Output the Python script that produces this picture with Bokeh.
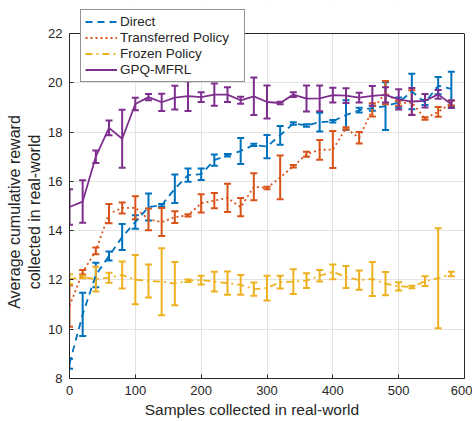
from bokeh.plotting import figure
from bokeh.models import (ColumnDataSource, Whisker, TeeHead, FixedTicker, LinearAxis,
                          Legend, LegendItem, Range1d, BoxAnnotation, Span)
from bokeh.embed import file_html
from bokeh.resources import INLINE

samples = [0, 20, 40, 60, 80, 100, 120, 140, 160, 180, 200, 220, 240, 260, 280,
           300, 320, 340, 360, 380, 400, 420, 440, 460, 480, 500, 520, 540, 560, 580]

direct = [8.6, 10.6, 12.2, 12.97, 13.74, 14.35, 14.96, 15.03, 15.7, 16.25, 16.29, 16.86,
          17.06, 17.23, 17.48, 17.41, 17.87, 18.35, 18.27, 18.4, 18.44, 18.69, 18.89,
          18.97, 19.05, 19.2, 19.65, 19.2, 19.88, 19.75]
direct_err = [0.2, 0.88, 0.5, 0.18, 0.53, 0.27, 0.55, 0.05, 0.58, 0.27, 0.23, 0.23,
              0.05, 0.53, 0.05, 0.47, 0.38, 0.05, 0.05, 0.38, 0.05, 0.6, 0.1,
              0.1, 0.97, 0.2, 0.72, 0.1, 0.35, 0.7]

transferred = [10.94, 12.31, 13.18, 14.69, 14.92, 14.93, 14.46, 14.35, 14.55, 14.62, 15.11,
               15.22, 15.33, 14.95, 15.78, 15.73, 16.16, 16.61, 17.1, 17.28, 17.29, 18.15,
               17.77, 18.9, 19.6, 19.17, 19.2, 18.55, 18.82, 19.18]
transferred_err = [0.84, 0.09, 0.14, 0.39, 0.22, 0.47, 0.44, 0.57, 0.24, 0.05, 0.37,
                   0.31, 0.57, 0.37, 0.55, 0.05, 0.89, 0.05, 0.1, 0.4, 0.75, 0.05,
                   0.23, 0.27, 0.47, 0.1, 0.5, 0.05, 0.2, 0.1]

frozen = [12.03, 12.12, 12.03, 12.09, 12.2, 12.01, 11.96, 11.93, 11.85, 11.97, 11.99,
          11.93, 11.87, 11.8, 11.63, 11.67, 11.91, 11.93, 11.97, 12.17, 12.33, 12.12,
          11.99, 12.04, 11.85, 11.74, 11.71, 11.95, 12.07, 12.24]
frozen_err = [0.2, 0.05, 0.5, 0.2, 0.55, 1.0, 0.67, 1.36, 0.88, 0.05, 0.18,
              0.4, 0.47, 0.4, 0.27, 0.5, 0.26, 0.5, 0.3, 0.23, 0.3, 0.45,
              0.39, 0.69, 0.47, 0.17, 0.05, 0.2, 2.03, 0.09]

gpq = [14.96, 15.18, 17.0, 18.17, 17.73, 19.14, 19.42, 19.21, 19.4, 19.46, 19.42,
       19.52, 19.52, 19.29, 19.45, 19.22, 19.18, 19.52, 19.36, 19.37, 19.5, 19.48,
       19.4, 19.47, 19.51, 19.33, 19.24, 19.27, 19.53, 19.13]
gpq_err = [0.72, 0.86, 0.25, 0.3, 1.18, 0.25, 0.13, 0.35, 0.48, 0.6, 0.2,
           0.45, 0.3, 0.14, 0.76, 0.67, 0.05, 0.1, 0.53, 0.52, 0.3, 0.3,
           0.2, 0.4, 0.31, 0.41, 0.55, 0.27, 0.18, 0.15]

names = ["Direct", "Transferred Policy", "Frozen Policy", "GPQ-MFRL"]
x_ticks = [0, 100, 200, 300, 400, 500, 600]
y_ticks = [8, 10, 12, 14, 16, 18, 20, 22]
x_title = "Samples collected in real-world"
y_title_lines = ["Average cumulative reward", "collected in real-world"]
Y_MIN, Y_MAX = 8, 22

FONT = "Liberation Sans"
AX = "#262626"
NB = "\u00a0"

# frame reaches a little above y=22 so the legend (which overlaps the top of the axes box)
# is not clipped; the axes box itself is drawn at 8..22
p = figure(width=472, height=421, output_backend="svg", toolbar_location=None,
           x_range=Range1d(0, 600), y_range=Range1d(Y_MIN, Y_MAX + 28 / 24.64),
           min_border_left=69, min_border_right=8, min_border_top=5, min_border_bottom=43)
p.outline_line_color = None
p.background_fill_color = "white"
p.border_fill_color = "white"

p.xaxis.ticker = FixedTicker(ticks=x_ticks)
p.yaxis.ticker = FixedTicker(ticks=y_ticks)
p.yaxis.bounds = (Y_MIN, Y_MAX)
for ax in (p.xaxis[0], p.yaxis[0]):
    ax.axis_line_color = AX
    ax.major_tick_line_color = AX
    ax.major_tick_in = 4
    ax.major_tick_out = 0
    ax.minor_tick_line_color = None
    ax.major_label_text_font = FONT
    ax.major_label_text_font_size = "13px"
    ax.major_label_text_color = AX
    ax.axis_label_text_font = FONT
    ax.axis_label_text_font_style = "normal"
    ax.axis_label_text_color = AX
    ax.major_label_standoff = 7

p.xaxis.axis_label_text_font_size = "15.5px"
p.yaxis.axis_label_text_font_size = "16px"
# trailing no-break spaces nudge the titles to where the reference places them
p.xaxis.axis_label = x_title + NB * 7
p.xaxis.axis_label_standoff = 3
p.yaxis.axis_label = "\n".join(s + NB * 9 for s in y_title_lines)
p.yaxis.axis_label_standoff = 2

right_ax = LinearAxis(ticker=FixedTicker(ticks=[]), bounds=(Y_MIN, Y_MAX),
                      axis_line_color=AX, major_tick_line_color=None,
                      minor_tick_line_color=None)
p.add_layout(right_ax, "right")

p.xgrid.ticker = FixedTicker(ticks=x_ticks)
p.ygrid.ticker = FixedTicker(ticks=y_ticks)
p.grid.grid_line_color = "#e3e3e3"
p.grid.grid_line_width = 1

# white cover above the axes box, then the top edge of the box
p.add_layout(BoxAnnotation(bottom=Y_MAX, fill_color="white", fill_alpha=1.0,
                           line_color=None))
p.add_layout(Span(location=Y_MAX, dimension="width", line_color=AX, line_width=1))

series = [
    (direct, direct_err, "#0072BD", "7 5"),
    (transferred, transferred_err, "#D95319", "2 3"),
    (frozen, frozen_err, "#EDB120", "7 4 2 4"),
    (gpq, gpq_err, "#7E2F8E", "solid"),
]

items = []
for (vals, errs, col, dash), name in zip(series, names):
    src = ColumnDataSource(dict(
        x=samples, y=vals,
        lo=[v - e for v, e in zip(vals, errs)],
        hi=[v + e for v, e in zip(vals, errs)]))
    ln = p.line("x", "y", source=src, line_color=col, line_width=1.8, line_dash=dash)
    wk = Whisker(source=src, base="x", lower="lo", upper="hi", dimension="height",
                 line_color=col, line_width=2,
                 upper_head=TeeHead(size=7, line_color=col, line_width=2),
                 lower_head=TeeHead(size=7, line_color=col, line_width=2))
    p.add_layout(wk)
    # legend-only error-bar symbol: one point with no y position, so nothing shows in the plot
    mk = p.scatter(x=[samples[0]], y=[float("nan")], marker="line", size=14,
                   line_color=col, line_width=2)
    items.append(LegendItem(label=name, renderers=[ln, mk]))

legend = Legend(items=items, location=(11, 296), orientation="vertical",
                label_text_font=FONT, label_text_font_size="13.5px", label_text_color=AX,
                glyph_width=32, glyph_height=15, spacing=1, padding=4, label_standoff=3,
                label_width=120,
                border_line_color=AX, border_line_width=1,
                background_fill_color="white", background_fill_alpha=1.0)
p.add_layout(legend, "center")

open("out.html", "w").write(file_html(p, INLINE))
